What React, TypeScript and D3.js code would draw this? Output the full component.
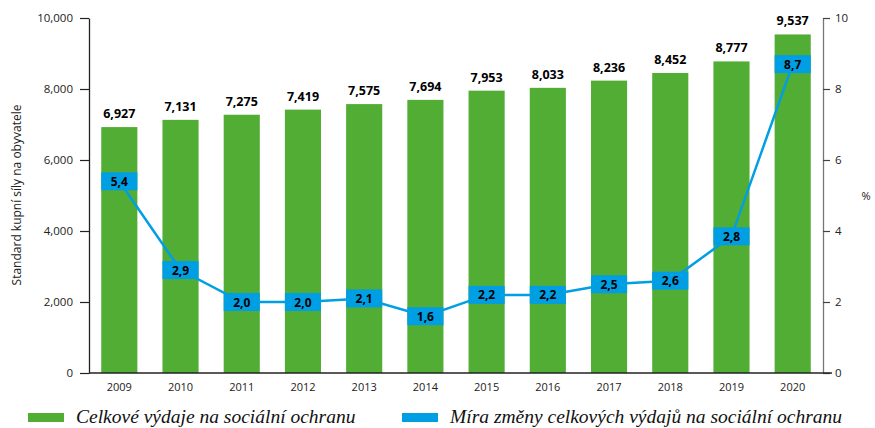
import * as d3 from "d3";
import React, { useRef, useEffect } from "react";

// data
const years = ["2009", "2010", "2011", "2012", "2013", "2014", "2015", "2016", "2017", "2018", "2019", "2020"];
const totalSpending = [6927, 7131, 7275, 7419, 7575, 7694, 7953, 8033, 8236, 8452, 8777, 9537];
// where the points sit on the % axis (2019 is drawn higher than its label in the original)
const ratePlotted = [5.4, 2.9, 2.0, 2.0, 2.1, 1.6, 2.2, 2.2, 2.5, 2.6, 3.85, 8.7];
const rateLabels = ["5,4", "2,9", "2,0", "2,0", "2,1", "1,6", "2,2", "2,2", "2,5", "2,6", "2,8", "8,7"];
const leftTicks = [0, 2000, 4000, 6000, 8000, 10000];
const rightTicks = [0, 2, 4, 6, 8, 10];

const GREEN = "#52ad34";
const BLUE = "#009fe3";
const FONT = "'Open Sans', 'DejaVu Sans', sans-serif";

export default function App() {
  const svgRef = useRef<SVGSVGElement | null>(null);

  useEffect(() => {
    if (!svgRef.current) return;
    const root = d3.select(svgRef.current);
    root.selectAll("*").remove();

    const left = 89;
    const right = 823;
    const top = 18;
    const bottom = 373;

    const x = d3.scaleBand<string>().domain(years).range([left, right]).paddingInner(0.41).paddingOuter(0.2);
    const yL = d3.scaleLinear().domain([0, 10000]).range([bottom, top]);
    const yR = d3.scaleLinear().domain([0, 10]).range([bottom, top]);

    // bars
    root
      .selectAll("rect.bar")
      .data(totalSpending)
      .enter()
      .append("rect")
      .attr("class", "bar")
      .attr("x", (_d, i) => x(years[i])!)
      .attr("y", (d) => yL(d))
      .attr("width", x.bandwidth())
      .attr("height", (d) => bottom - yL(d))
      .attr("fill", GREEN);

    // bar value labels
    root
      .selectAll("text.val")
      .data(totalSpending)
      .enter()
      .append("text")
      .attr("class", "val")
      .attr("x", (_d, i) => x(years[i])! + x.bandwidth() / 2)
      .attr("y", (d) => yL(d) - 9)
      .attr("text-anchor", "middle")
      .style("font-family", FONT)
      .style("font-size", "12.5px")
      .style("font-weight", "bold")
      .text((d) => d3.format(",")(d));

    // left axis
    const axL = root.append("g").attr("transform", `translate(${left},0)`).call(
      d3.axisLeft(yL).tickValues(leftTicks).tickFormat(d3.format(",") as any).tickSize(9).tickSizeOuter(0)
    );
    axL.select(".domain").attr("stroke", "#222").attr("stroke-width", 1.3);
    axL.selectAll(".tick line").attr("stroke", "#222").attr("stroke-width", 1.2);
    axL.selectAll("text").style("font-family", FONT).style("font-size", "11.5px").attr("fill", "#222").attr("x", -16);

    // right axis
    const axR = root.append("g").attr("transform", `translate(${right},0)`).call(
      d3.axisRight(yR).tickValues(rightTicks).tickSize(7).tickSizeOuter(0)
    );
    axR.select(".domain").attr("stroke", "#777").attr("stroke-width", 1.3);
    axR.selectAll(".tick line").attr("stroke", "#444").attr("stroke-width", 1.2);
    axR.selectAll("text").style("font-family", FONT).style("font-size", "11.5px").attr("fill", "#222").attr("x", 12);

    // bottom axis
    const axB = root.append("g").attr("transform", `translate(0,${bottom})`).call(
      d3.axisBottom(x).tickSize(0).tickPadding(10)
    );
    axB.select(".domain").attr("d", `M${left},0H${right + 9}`).attr("stroke", "#222").attr("stroke-width", 1.3);
    axB.selectAll("text").style("font-family", FONT).style("font-size", "11px").attr("fill", "#222");

    // rate line
    const line = d3
      .line<number>()
      .x((_d, i) => x(years[i])! + x.bandwidth() / 2)
      .y((d) => yR(d));
    root
      .append("path")
      .datum(ratePlotted)
      .attr("d", line)
      .attr("fill", "none")
      .attr("stroke", BLUE)
      .attr("stroke-width", 2.5);

    const boxH = 18;
    const boxes = root
      .selectAll("g.rate")
      .data(ratePlotted)
      .enter()
      .append("g")
      .attr("class", "rate")
      .attr("transform", (d, i) => `translate(${x(years[i])},${yR(d) - boxH / 2})`);
    boxes.append("rect").attr("width", x.bandwidth()).attr("height", boxH).attr("fill", BLUE);
    boxes
      .append("text")
      .attr("x", x.bandwidth() / 2)
      .attr("y", boxH / 2 + 4.5)
      .attr("text-anchor", "middle")
      .style("font-family", FONT)
      .style("font-size", "12px")
      .style("font-weight", "bold")
      .attr("fill", "#000")
      .text((_d, i) => rateLabels[i]);

    // axis titles
    root
      .append("text")
      .attr("transform", `translate(21,195) rotate(-90)`)
      .attr("text-anchor", "middle")
      .style("font-family", FONT)
      .style("font-size", "12px")
      .attr("fill", "#222")
      .text("Standard kupní síly na obyvatele");
    root
      .append("text")
      .attr("x", 866)
      .attr("y", 200)
      .attr("text-anchor", "middle")
      .style("font-family", FONT)
      .style("font-size", "11px")
      .attr("fill", "#222")
      .text("%");

    // legend
    const legend = [
      { label: "Celkové výdaje na sociální ochranu", color: GREEN, x: 28 },
      { label: "Míra změny celkových výdajů na sociální ochranu", color: BLUE, x: 402 },
    ];
    legend.forEach((l) => {
      root.append("rect").attr("x", l.x).attr("y", 413).attr("width", 36).attr("height", 9).attr("fill", l.color);
      root
        .append("text")
        .attr("x", l.x + 48)
        .attr("y", 423)
        .style("font-family", "'Liberation Serif', 'DejaVu Serif', serif")
        .style("font-style", "italic")
        .style("font-size", "19.5px")
        .attr("fill", "#111")
        .text(l.label);
    });
  }, []);

  return (
    <div style={{ position: "absolute", left: 0, top: 0 }}>
      <svg ref={svgRef} width={875} height={428} style={{ display: "block" }}></svg>
    </div>
  );
}
